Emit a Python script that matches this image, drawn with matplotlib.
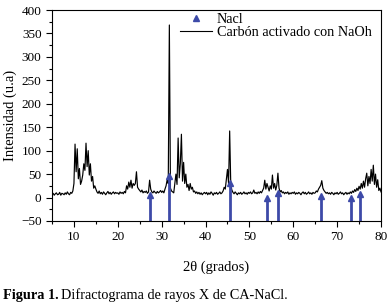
import numpy as np
import matplotlib
matplotlib.use('Agg')
import matplotlib.pyplot as plt
from matplotlib.lines import Line2D
from matplotlib.ticker import MultipleLocator

plt.rcParams['font.family'] = ['Liberation Serif', 'DejaVu Serif']

# difractograma, paso 0.25 grados de 5 a 80
x_start, x_step = 5.0, 0.25
intensidad = [
    # 5.00 - 9.75
    6, 9, 5, 8, 10, 6, 7, 11, 5, 9, 8, 6, 10, 7, 12, 8, 6, 11, 9, 14,
    # 10.00 - 14.75
    30, 114, 55, 104, 40, 62, 28, 35, 48, 72, 58, 116, 66, 100, 48, 72, 35, 45, 20, 25,
    # 15.00 - 19.75
    18, 12, 9, 14, 8, 11, 7, 12, 9, 6, 10, 13, 8, 11, 7, 10, 12, 8, 11, 9,
    # 20.00 - 24.75
    10, 7, 12, 9, 11, 8, 13, 10, 25, 18, 33, 22, 37, 20, 30, 26, 30, 55, 22, 18,
    # 25.00 - 29.75
    15, 12, 16, 10, 13, 11, 14, 9, 12, 37, 18, 12, 10, 14, 11, 9, 13, 10, 12, 15,
    # 30.00 - 34.75
    11, 14, 10, 18, 25, 38, 30, 368, 20, 14, 12, 10, 30, 50, 28, 127, 42, 72, 135, 35,
    # 35.00 - 39.75
    75, 30, 50, 22, 28, 15, 30, 18, 22, 12, 14, 9, 12, 8, 11, 7, 10, 6, 9, 11,
    # 40.00 - 44.75
    8, 11, 6, 10, 7, 12, 9, 5, 10, 8, 11, 7, 9, 12, 8, 10, 14, 22, 18, 40,
    # 45.00 - 49.75
    60, 30, 142, 28, 16, 11, 8, 12, 9, 6, 10, 8, 11, 7, 9, 12, 8, 10, 7, 11,
    # 50.00 - 54.75
    9, 12, 8, 10, 16, 9, 11, 8, 12, 9, 13, 10, 15, 20, 37, 18, 30, 22, 14, 25,
    # 55.00 - 59.75
    18, 48, 20, 30, 16, 26, 52, 20, 12, 15, 10, 12, 8, 11, 9, 12, 7, 10, 8, 11,
    # 60.00 - 64.75
    9, 12, 7, 10, 8, 11, 9, 6, 10, 12, 8, 11, 7, 9, 12, 8, 10, 7, 11, 9,
    # 65.00 - 69.75
    10, 14, 12, 18, 22, 26, 36, 20, 15, 12, 9, 11, 8, 10, 7, 11, 9, 6, 10, 8,
    # 70.00 - 74.75
    11, 7, 9, 12, 8, 10, 6, 9, 11, 7, 10, 8, 12, 9, 14, 11, 17, 13, 20, 15,
    # 75.00 - 79.75
    24, 18, 30, 20, 35, 22, 40, 52, 25, 45, 30, 60, 35, 69, 28, 50, 22, 38, 15, 20,
    # 80.00
    12,
]
dos_theta = x_start + x_step * np.arange(len(intensidad))

# picos de NaCl (posicion, altura de la flecha)
nacl_pos = [27.4, 31.7, 45.5, 53.9, 56.5, 66.3, 73.1, 75.3]
nacl_alt = [5, 47, 30, 0, 10, 3, 0, 8]

azul = '#3d4aa8'

fig = plt.figure(figsize=(3.87, 3.08), dpi=100)
ax = fig.add_axes([0.1344, 0.2825, 0.8501, 0.685])

ax.plot(dos_theta, intensidad, color='black', lw=0.85)
ax.vlines(nacl_pos, -50, nacl_alt, color=azul, lw=2.0)
ax.plot(nacl_pos, nacl_alt, ls='none', marker='^', ms=5, color=azul)

ax.set_xlim(5, 80)
ax.set_ylim(-50, 400)
ax.xaxis.set_major_locator(MultipleLocator(10))
ax.xaxis.set_minor_locator(MultipleLocator(5))
ax.yaxis.set_major_locator(MultipleLocator(50))
ax.yaxis.set_minor_locator(MultipleLocator(25))
ax.tick_params(which='both', direction='out', labelsize=9.5, top=False, right=False)
ax.tick_params(which='major', length=4, width=0.8)
ax.tick_params(which='minor', length=2.5, width=0.8)
ax.set_xlabel('2θ (grados)', fontsize=10.5, labelpad=12)
ax.set_ylabel('Intensidad (u.a)', fontsize=10.5, labelpad=3)

handles = [Line2D([], [], ls='none', marker='^', ms=5, color=azul),
           Line2D([], [], color='black', lw=0.8)]
ax.legend(handles, ['Nacl', 'Carbón activado con NaOh'], loc='upper left',
          bbox_to_anchor=(0.368, 1.019), frameon=False, fontsize=10.3,
          borderpad=0, labelspacing=0, handlelength=2.2, handletextpad=0.35)

fig.canvas.draw()
t1 = fig.text(0.008, 0.03, 'Figura 1.', fontsize=10.3, fontweight='bold')
r = fig.canvas.get_renderer()
bb = t1.get_window_extent(r)
fig.text(bb.x1 / fig.bbox.width + 0.006, 0.03, 'Difractograma de rayos X de CA-NaCl.', fontsize=10.3)

fig.savefig('out.png', dpi=100)
